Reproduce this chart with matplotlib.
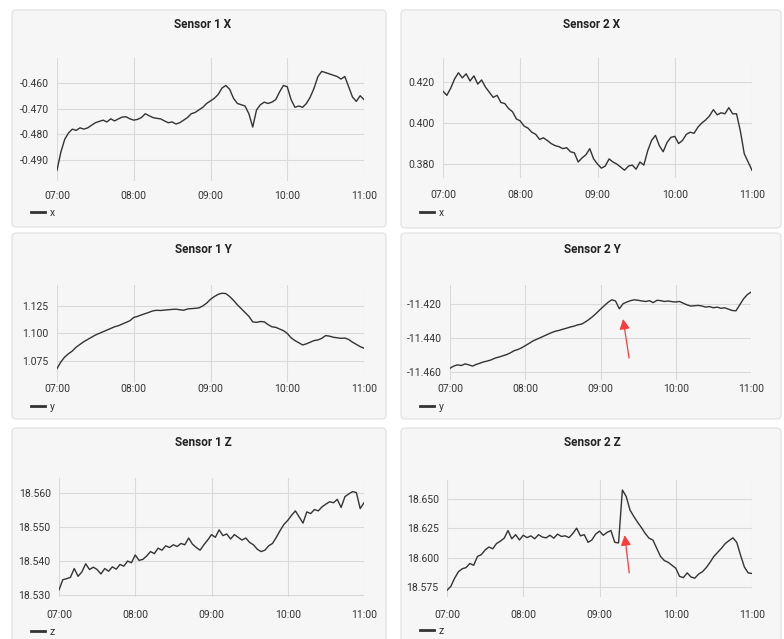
import numpy as np
import matplotlib
matplotlib.use("Agg")
import matplotlib.pyplot as plt
from matplotlib.patches import FancyBboxPatch
from matplotlib.lines import Line2D

plt.rcParams['font.family'] = ['Roboto', 'DejaVu Sans']

W, H = 784, 639

# readings every 3 minutes from 07:00 to 11:00 (81 samples)
minutes = np.arange(0, 241, 3)
hours = 7 + minutes / 60.0
hour_ticks = [7, 8, 9, 10, 11]
hour_labels = ['07:00', '08:00', '09:00', '10:00', '11:00']

s1_x = [-0.494, -0.487, -0.482, -0.4795, -0.478, -0.4785, -0.4775, -0.478, -0.4775, -0.4765,
        -0.4755, -0.475, -0.4745, -0.4752, -0.474, -0.4748, -0.474, -0.4733, -0.4732, -0.474,
        -0.4745, -0.4742, -0.4735, -0.472, -0.4728, -0.4735, -0.4738, -0.474, -0.4748, -0.4755,
        -0.4752, -0.476, -0.4755, -0.4745, -0.4735, -0.472, -0.4715, -0.4705, -0.4695, -0.468,
        -0.467, -0.466, -0.4645, -0.462, -0.461, -0.4625, -0.466, -0.468, -0.4685, -0.469,
        -0.472, -0.4772, -0.4705, -0.4685, -0.4675, -0.468, -0.4675, -0.4665, -0.4635, -0.461,
        -0.4615, -0.4665, -0.4695, -0.469, -0.4695, -0.468, -0.4655, -0.462, -0.4575, -0.4555,
        -0.456, -0.4565, -0.457, -0.4575, -0.4585, -0.4575, -0.4615, -0.4655, -0.4672, -0.465,
        -0.4665]

s2_x = [0.4155, 0.4135, 0.4170, 0.4215, 0.4245, 0.4220, 0.4240, 0.4205, 0.4230, 0.4190,
        0.4210, 0.4175, 0.4150, 0.4125, 0.4135, 0.4100, 0.4095, 0.4070, 0.4055, 0.4020,
        0.4010, 0.3985, 0.3975, 0.3955, 0.3945, 0.3920, 0.3928, 0.3915, 0.3900, 0.3890,
        0.3885, 0.3875, 0.3880, 0.3860, 0.3855, 0.3810, 0.3830, 0.3845, 0.3875, 0.3825,
        0.3800, 0.3780, 0.3790, 0.3825, 0.3810, 0.3800, 0.3785, 0.3770, 0.3790, 0.3795,
        0.3775, 0.3810, 0.3795, 0.3865, 0.3915, 0.3940, 0.3890, 0.3860, 0.3905, 0.3930,
        0.3935, 0.3900, 0.3915, 0.3945, 0.3955, 0.3950, 0.3980, 0.4000, 0.4015, 0.4035,
        0.4065, 0.4040, 0.4050, 0.4045, 0.4075, 0.4045, 0.4045, 0.3960, 0.3850, 0.3810,
        0.3770]

s1_y = [1.068, 1.074, 1.0785, 1.0815, 1.084, 1.0875, 1.090, 1.0925, 1.0945, 1.0965,
        1.0985, 1.100, 1.1015, 1.103, 1.1045, 1.106, 1.107, 1.1085, 1.110, 1.1115,
        1.1145, 1.1155, 1.1168, 1.118, 1.1192, 1.1205, 1.121, 1.1208, 1.1212, 1.1215,
        1.1218, 1.122, 1.1215, 1.121, 1.1222, 1.1225, 1.1228, 1.1232, 1.125, 1.1275,
        1.131, 1.1335, 1.1355, 1.1365, 1.1362, 1.1335, 1.130, 1.126, 1.1225, 1.119,
        1.1155, 1.1105, 1.110, 1.1108, 1.1105, 1.108, 1.106, 1.1055, 1.104, 1.1025,
        1.100, 1.096, 1.0935, 1.0915, 1.0895, 1.0905, 1.092, 1.0935, 1.094, 1.0955,
        1.098, 1.0975, 1.0965, 1.096, 1.0955, 1.0958, 1.0945, 1.092, 1.090, 1.088,
        1.0865]

s2_y = [-11.4578, -11.4565, -11.4558, -11.4562, -11.4552, -11.4558, -11.4565, -11.4555, -11.4548, -11.4540,
        -11.4535, -11.4528, -11.4518, -11.4512, -11.4505, -11.4498, -11.4488, -11.4475, -11.4468, -11.4458,
        -11.4445, -11.4432, -11.4418, -11.4408, -11.4398, -11.4388, -11.4378, -11.4368, -11.4360, -11.4355,
        -11.4348, -11.4342, -11.4335, -11.4330, -11.4322, -11.4318, -11.4305, -11.4290, -11.4272, -11.4252,
        -11.4230, -11.4210, -11.4190, -11.4175, -11.4182, -11.4228, -11.4198, -11.4188, -11.4180, -11.4175,
        -11.4178, -11.4182, -11.4185, -11.4180, -11.4192, -11.4178, -11.4180, -11.4185, -11.4182, -11.4186,
        -11.4188, -11.4185, -11.4195, -11.4205, -11.4212, -11.4210, -11.4208, -11.4212, -11.4218, -11.4215,
        -11.4222, -11.4218, -11.4225, -11.4222, -11.4230, -11.4238, -11.4240, -11.4205, -11.4170, -11.4145,
        -11.4130]

s1_z = [18.5315, 18.5345, 18.5348, 18.5352, 18.5378, 18.5355, 18.5368, 18.5392, 18.5375, 18.5382,
        18.5375, 18.5362, 18.5378, 18.5370, 18.5383, 18.5376, 18.5390, 18.5385, 18.5400, 18.5395,
        18.5418, 18.5402, 18.5405, 18.5415, 18.5428, 18.5422, 18.5438, 18.5432, 18.5445, 18.5440,
        18.5448, 18.5443, 18.5452, 18.5448, 18.5468, 18.5450, 18.5440, 18.5432, 18.5448, 18.5462,
        18.5478, 18.5470, 18.5492, 18.5475, 18.5480, 18.5465, 18.5478, 18.5470, 18.5462, 18.5468,
        18.5455, 18.5448, 18.5435, 18.5428, 18.5432, 18.5445, 18.5452, 18.5470, 18.5490, 18.5508,
        18.5520, 18.5535, 18.5548, 18.5530, 18.5512, 18.5545, 18.5540, 18.5552, 18.5548, 18.5560,
        18.5568, 18.5575, 18.5572, 18.5582, 18.5558, 18.5590, 18.5598, 18.5605, 18.5602, 18.5555,
        18.5572]

s2_z = [18.5722, 18.5755, 18.5825, 18.5880, 18.5905, 18.5915, 18.5950, 18.5935, 18.6010, 18.6025,
        18.6065, 18.6090, 18.6075, 18.6120, 18.6140, 18.6165, 18.6230, 18.6160, 18.6195, 18.6150,
        18.6190, 18.6170, 18.6185, 18.6160, 18.6195, 18.6175, 18.6168, 18.6190, 18.6165, 18.6200,
        18.6180, 18.6185, 18.6170, 18.6205, 18.6250, 18.6185, 18.6195, 18.6130, 18.6150, 18.6200,
        18.6225, 18.6190, 18.6215, 18.6230, 18.6130, 18.6125, 18.6575, 18.6520, 18.6405, 18.6350,
        18.6300, 18.6255, 18.6205, 18.6165, 18.6150, 18.6080, 18.6010, 18.5975, 18.5960, 18.5935,
        18.5910, 18.5840, 18.5830, 18.5870, 18.5835, 18.5825, 18.5860, 18.5880, 18.5915, 18.5960,
        18.6010, 18.6045, 18.6080, 18.6120, 18.6145, 18.6168, 18.6130, 18.6020, 18.5920, 18.5870,
        18.5865]

titles = ['Sensor 1 X', 'Sensor 2 X', 'Sensor 1 Y', 'Sensor 2 Y', 'Sensor 1 Z', 'Sensor 2 Z']
series = [s1_x, s2_x, s1_y, s2_y, s1_z, s2_z]
legend_names = ['x', 'x', 'y', 'y', 'z', 'z']
y_ticks = [[-0.490, -0.480, -0.470, -0.460], [0.380, 0.400, 0.420],
           [1.075, 1.100, 1.125], [-11.460, -11.440, -11.420],
           [18.530, 18.540, 18.550, 18.560], [18.575, 18.600, 18.625, 18.650]]
y_limits = [(-0.4982, -0.4503), (0.3732, 0.4317), (1.0558, 1.144),
            (-11.4647, -11.4088), (18.5294, 18.5645), (18.5665, 18.666)]

# layout in pixels: card box, plot area (left, right, top, bottom), title centre, legend anchor
cards = [(12, 386, 10, 227), (401, 781, 10, 228), (12, 386, 233, 419),
         (401, 781, 233, 419), (12, 386, 428, 660), (401, 781, 428, 660)]
plots = [(57, 364, 58, 181), (443, 752, 58, 178), (57, 364, 285, 382),
         (450, 751, 285, 380), (59, 364, 478, 597), (447, 752, 480, 597)]
x_pads = [7, 9, 1.5, 3, 9.5, 9]
title_pos = [(203, 25), (592, 25), (203, 249), (592, 249), (203, 443), (592, 443)]
legend_pos = [(31, 213), (420, 213), (31, 407), (420, 407), (31, 632), (420, 631)]

# red arrows: (tail time, tail value, tip time, tip value)
arrows = {3: (9.38, -11.4518, 9.30, -11.4288),
          5: (9.39, 18.587, 9.33, 18.619)}

fig = plt.figure(figsize=(W / 100, H / 100), dpi=100)
fig.patch.set_facecolor('white')

line_color = '#333333'
for k in range(6):
    x0, x1, y0, y1 = cards[k]
    fig.patches.append(FancyBboxPatch((x0 / W, 1 - y1 / H), (x1 - x0) / W, (y1 - y0) / H,
                                      boxstyle='round,pad=0,rounding_size=0.006',
                                      transform=fig.transFigure, fc='#f6f6f6',
                                      ec='#e4e4e4', lw=1, zorder=-5))
    l, r, t, b = plots[k]
    ax = fig.add_axes([l / W, 1 - b / H, (r - l) / W, (b - t) / H])
    ax.set_zorder(1)
    ax.set_facecolor('none')
    ax.plot(hours, series[k], color=line_color, lw=1.0)
    ax.set_xlim(7, 11)
    ax.set_ylim(*y_limits[k])
    ax.set_xticks(hour_ticks)
    ax.set_xticklabels(hour_labels)
    ax.set_yticks(y_ticks[k])
    ax.set_yticklabels(['%.3f' % v for v in y_ticks[k]])
    for s in ax.spines.values():
        s.set_visible(False)
    ax.tick_params(length=0, labelsize=7.5, colors='#333333')
    ax.tick_params(axis='x', pad=x_pads[k])
    ax.tick_params(axis='y', pad=6)
    ax.grid(True, color='#dadada', lw=0.8)
    ax.set_axisbelow(True)

    tx, ty = title_pos[k]
    fig.text(tx / W, 1 - ty / H, titles[k], ha='center', va='center',
             fontsize=8.5, fontweight='bold', color='#222222')

    lx, ly = legend_pos[k]
    handle = Line2D([], [], color=line_color, lw=2)
    ax.legend([handle], [legend_names[k]], loc='center left',
              bbox_to_anchor=(lx / W, 1 - ly / H), bbox_transform=fig.transFigure,
              frameon=False, fontsize=7.5, handlelength=1.3, handletextpad=0.5,
              borderpad=0, borderaxespad=0, labelcolor='#333333')

    if k in arrows:
        xt, yt, xh, yh = arrows[k]
        ax.annotate('', xy=(xh, yh), xytext=(xt, yt),
                    arrowprops=dict(arrowstyle='-|>', color='#ff3b3b', lw=0.9,
                                    mutation_scale=15, shrinkA=0, shrinkB=0))

fig.savefig('out.png', dpi=100)
